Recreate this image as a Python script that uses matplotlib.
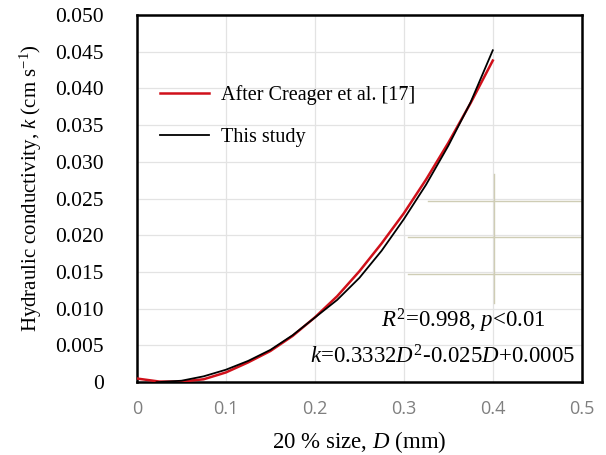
import numpy as np
import matplotlib
matplotlib.use("Agg")
import matplotlib.pyplot as plt

plt.rcParams['font.family'] = ['Liberation Serif', 'DejaVu Serif']
plt.rcParams['mathtext.fontset'] = 'custom'
plt.rcParams['mathtext.rm'] = 'Liberation Serif'
plt.rcParams['mathtext.it'] = 'Liberation Serif:italic'

# data
d_creager = [0.0, 0.025, 0.05, 0.075, 0.1, 0.125, 0.15, 0.175, 0.2, 0.225, 0.25,
             0.275, 0.3, 0.325, 0.35, 0.375, 0.4]
k_creager = [0.0005, 0.00009, 0.00008, 0.0004, 0.00133, 0.0027, 0.00425, 0.0063, 0.00883,
             0.0117, 0.0151, 0.0189, 0.0230, 0.0276, 0.0326, 0.0380, 0.0438]

d_study = [0.022, 0.05, 0.075, 0.1, 0.125, 0.15, 0.175, 0.2, 0.225, 0.25, 0.275,
           0.3, 0.325, 0.35, 0.375, 0.4]
k_study = [0.0, 0.0002, 0.0008, 0.0017, 0.0029, 0.0044, 0.0064, 0.0088, 0.0112, 0.0142,
           0.0179, 0.0222, 0.0269, 0.0322, 0.0381, 0.0452]

xticks = [0, 0.1, 0.2, 0.3, 0.4, 0.5]
xticklabels = ['0', '0.1', '0.2', '0.3', '0.4', '0.5']
yticks = [0, 0.005, 0.01, 0.015, 0.02, 0.025, 0.03, 0.035, 0.04, 0.045, 0.05]
yticklabels = ['0', '0.005', '0.010', '0.015', '0.020', '0.025', '0.030', '0.035',
               '0.040', '0.045', '0.050']

# stray guide lines visible in the original figure
stray_h = [(0.327, 0.5, 0.0247), (0.305, 0.5, 0.0198), (0.305, 0.5, 0.01475)]
stray_v = [(0.401, 0.0108, 0.0283)]

fig = plt.figure(figsize=(6.06, 4.55), dpi=100)
ax = fig.add_axes([0.226, 0.160, 0.734, 0.807])

ax.plot(d_creager, k_creager, color='#d0101a', lw=1.8, label='After Creager et al. [17]', zorder=3)
ax.plot(d_study, k_study, color='black', lw=1.3, label='This study', zorder=4)

for x0, x1, y in stray_h:
    ax.plot([x0, x1], [y, y], color='#cfcdb5', lw=1.0, zorder=2)
for x, y0, y1 in stray_v:
    ax.plot([x, x], [y0, y1], color='#cfcdb5', lw=1.0, zorder=2)

ax.set_xlim(0, 0.5)
ax.set_ylim(0, 0.05)
ax.set_xticks(xticks)
ax.set_xticklabels(xticklabels, fontfamily='Open Sans', color='#7f7f7f', fontsize=13)
ax.set_yticks(yticks)
ax.set_yticklabels(yticklabels, fontsize=15.5)
ax.tick_params(axis='both', length=0)
ax.tick_params(axis='x', pad=13)
ax.tick_params(axis='y', pad=24)
ax.grid(True, color='#e3e3e3', lw=0.9)
ax.set_axisbelow(True)
for s in ax.spines.values():
    s.set_linewidth(1.8)

ax.set_xlabel(r'20 % size, $\mathit{D}$ (mm)', fontsize=16.5, labelpad=8)
ax.set_ylabel(r'Hydraulic conductivity, $\mathit{k}$ (cm s$^{\mathregular{-1}}$)', fontsize=15)
ax.yaxis.set_label_coords(-0.209, 0.53)

leg = ax.legend(loc='upper left', bbox_to_anchor=(0.012, 0.859), frameon=False,
                fontsize=14.5, handlelength=2.4, labelspacing=1.15, handletextpad=0.6)

ax.text(0.733, 0.166, r'$\mathit{R}^{2}$=0.998, $\mathit{p}$<0.01', transform=ax.transAxes,
        ha='center', va='center', fontsize=16.5)
ax.text(0.687, 0.068, r'$\mathit{k}$=0.3332$\mathit{D}^{2}$-0.025$\mathit{D}$+0.0005', transform=ax.transAxes,
        ha='center', va='center', fontsize=16.5)

fig.savefig('out.png', dpi=100)
